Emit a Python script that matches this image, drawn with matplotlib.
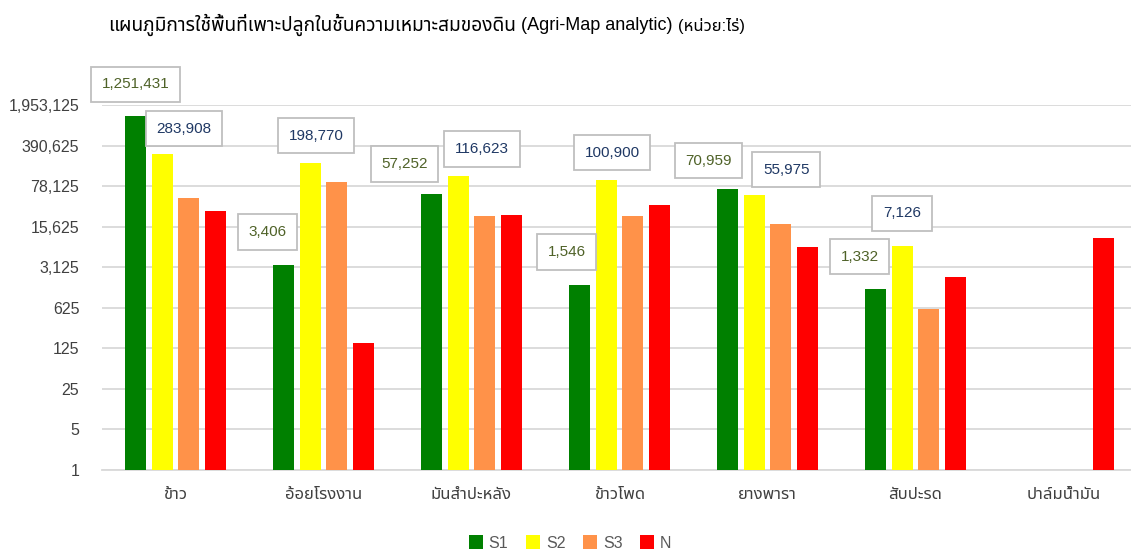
import matplotlib
matplotlib.use("Agg")
import matplotlib.pyplot as plt
from matplotlib import font_manager
from matplotlib.patches import Patch
from matplotlib.ticker import FixedLocator, FuncFormatter, NullLocator
import numpy as np

# ---------------- data ----------------
categories = ["ข้าว", "อ้อยโรงงาน", "มันสำปะหลัง", "ข้าวโพด", "ยางพารา", "สับปะรด", "ปาล์มน้ำมัน"]
series_names = ["S1", "S2", "S3", "N"]
s1_values = [1251431, 3406, 57252, 1546, 70959, 1332, 0]
s2_values = [283908, 198770, 116623, 100900, 55975, 7126, 0]
s3_values = [48700, 90700, 23600, 23800, 17100, 595, 0]
n_values = [29100, 153, 24500, 36800, 6900, 2140, 10000]
y_ticks = [1, 5, 25, 125, 625, 3125, 15625, 78125, 390625, 1953125]
title_thai = "แผนภูมิการใช้พื้นที่เพาะปลูกในชั้นความเหมาะสมของดิน"
title_latin = "(Agri-Map analytic)"
title_unit = "(หน่วย:ไร่)"

# ---------------- style ----------------
colors = ["#008000", "#FFFF00", "#FF9249", "#FF0000"]
label_colors = ["#4F6228", "#1F3864"]
# label offsets (pixels) from top-centre of the bar to the centre of the box
s1_offsets = [(0, 32), (-16, 33), (-27, 30), (-13, 33), (-19, 28), (-16, 32), None]
s2_offsets = [(22, 25), (6, 27), (24, 27), (6, 27), (32, 25), (0, 33), None]

names = {f.name for f in font_manager.fontManager.ttflist}
thai_pref = ["Noto Sans Thai", "Noto Sans Thai UI", "Sarabun", "Athiti", "IBM Plex Sans Thai", "Anuphan", "Bai Jamjuree"]
thai = next((n for n in thai_pref if n in names), "DejaVu Sans")
latin = "Liberation Sans"
fam = [latin, thai]
plt.rcParams['font.family'] = fam

W, H = 1131, 551
fig = plt.figure(figsize=(W / 100, H / 100), dpi=100)
ax_left, ax_right, ax_bottom, ax_top = 101.5, 1137.5, 470, 105
ax = fig.add_axes([ax_left / W, 1 - ax_bottom / H, (ax_right - ax_left) / W, (ax_bottom - ax_top) / H])

cat_px = (ax_right - ax_left) / len(categories)
bar_w = 21 / cat_px
pitch = 26.7 / cat_px
x = np.arange(len(categories))
all_series = [s1_values, s2_values, s3_values, n_values]
for i, (vals, c) in enumerate(zip(all_series, colors)):
    xs = [xi + (i - 1.5) * pitch for xi, v in zip(x, vals) if v > 0]
    vs = [v for v in vals if v > 0]
    ax.bar(xs, vs, width=bar_w, color=c, edgecolor="none", zorder=3)

ax.set_yscale("log")
ax.set_ylim(1, 1953125)
ax.set_xlim(-0.5, len(categories) - 0.5)
ax.yaxis.set_major_locator(FixedLocator(y_ticks))
ax.yaxis.set_minor_locator(NullLocator())
ax.yaxis.set_major_formatter(FuncFormatter(lambda v, p: f"{int(round(v)):,}"))
ax.set_xticks(x)
ax.set_xticklabels(categories)
ax.tick_params(axis="y", length=0, pad=16, labelsize=11.5, labelcolor="#404040")
ax.tick_params(axis="x", length=0, pad=12, labelsize=12, labelcolor="#404040")
ax.grid(axis="y", color="#d9d9d9", lw=1.3, zorder=0)
for s in ["left", "right", "top"]:
    ax.spines[s].set_visible(False)
ax.spines["bottom"].set_color("#d9d9d9")
ax.spines["bottom"].set_linewidth(1.3)

px2pt = 72 / 100
for vals, offs, tc, si in [(s1_values, s1_offsets, label_colors[0], 0), (s2_values, s2_offsets, label_colors[1], 1)]:
    for xi, v, off in zip(x, vals, offs):
        if v <= 0 or off is None:
            continue
        bx = xi + (si - 1.5) * pitch
        ax.annotate(f"{v:,}", xy=(bx, v), xytext=(off[0] * px2pt, off[1] * px2pt),
                    textcoords="offset points", ha="center", va="center",
                    fontsize=11, color=tc, annotation_clip=False, zorder=5,
                    bbox=dict(boxstyle="square,pad=0.7", fc="white", ec="#bfbfbf", lw=1.3))

t1 = fig.text(108 / W, 1 - 25 / H, title_thai, fontsize=13.8, color="#000000", va="center", ha="left")
fig.canvas.draw()
bb = t1.get_window_extent()
t2 = fig.text((bb.x1 + 5) / W, 1 - 25 / H, title_latin, fontsize=13, color="#000000", va="center", ha="left")
fig.canvas.draw()
bb = t2.get_window_extent()
fig.text((bb.x1 + 6) / W, 1 - 26 / H, title_unit, fontsize=12, color="#000000", va="center", ha="left")

handles = [Patch(facecolor=c, edgecolor="none") for c in colors]
fig.legend(handles, series_names, loc="center", bbox_to_anchor=(570 / W, 1 - 543 / H), ncol=4,
           frameon=False, fontsize=11.5, labelcolor="#595959", handlelength=0.9, handleheight=0.9,
           handletextpad=0.35, columnspacing=1.1, borderaxespad=0, borderpad=0)

fig.savefig("out.png", dpi=100)
